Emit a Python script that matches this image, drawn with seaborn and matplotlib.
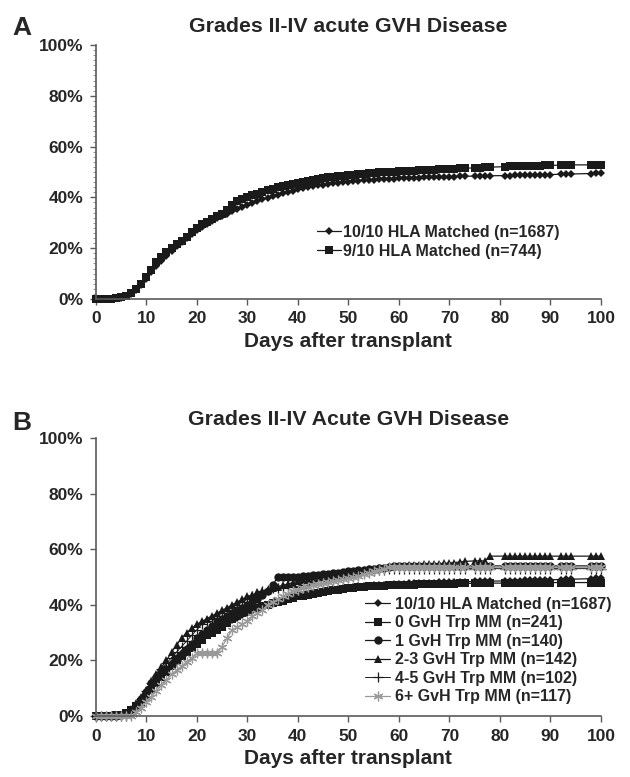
import matplotlib
matplotlib.use("Agg")
import matplotlib.pyplot as plt
import seaborn as sns
from matplotlib.ticker import PercentFormatter, MultipleLocator

sns.set_style("ticks")
plt.rcParams["font.family"] = ["Liberation Sans", "DejaVu Sans"]
plt.rcParams["font.weight"] = "bold"

# days with events (gaps after day 73)
days = list(range(0, 74)) + [75, 76, 77, 78] + list(range(81, 91)) + [92, 93, 94] + [98, 99, 100]

# panel A, cumulative incidence (%)
hla_10_10 = [
    0, 0, 0, 0, 0.2, 0.5, 1.0, 2.0, 3.5, 5.5,
    8.0, 10.5, 13.0, 15.0, 17.0, 19.0, 20.8, 22.5, 24.0, 25.5,
    27.0, 28.3, 29.5, 30.6, 31.7, 32.7, 33.6, 34.5, 35.4, 36.2,
    37.0, 37.8, 38.5, 39.2, 39.9, 40.5, 41.1, 41.7, 42.2, 42.7,
    43.2, 43.6, 44.0, 44.4, 44.7, 45.0, 45.3, 45.6, 45.8, 46.0,
    46.2, 46.4, 46.6, 46.8, 46.9, 47.0, 47.1, 47.2, 47.3, 47.4,
    47.5, 47.6, 47.7, 47.8, 47.8, 47.9, 48.0, 48.0, 48.1, 48.1,
    48.2, 48.2, 48.3, 48.3,
    48.4, 48.4, 48.5, 48.5,
    48.6, 48.6, 48.7, 48.7, 48.8, 48.8, 48.9, 48.9, 49.0, 49.0,
    49.1, 49.2, 49.2,
    49.4, 49.5, 49.5,
]
hla_9_10 = [
    0, 0, 0, 0, 0.3, 0.7, 1.3, 2.5, 4.0, 6.0,
    8.5, 11.5, 14.5, 16.5, 18.5, 20.0, 21.5, 23.0, 24.5, 26.5,
    28.0, 29.5, 30.5, 31.5, 32.5, 33.5, 35.0, 37.0, 38.5, 39.3,
    40.0, 40.8, 41.5, 42.2, 42.8, 43.4, 44.0, 44.5, 45.0, 45.4,
    45.8, 46.2, 46.6, 47.0, 47.3, 47.6, 47.9, 48.2, 48.4, 48.6,
    48.8, 49.0, 49.2, 49.4, 49.5, 49.7, 49.8, 49.9, 50.0, 50.1,
    50.2, 50.3, 50.4, 50.5, 50.6, 50.7, 50.8, 50.9, 51.0, 51.1,
    51.2, 51.3, 51.4, 51.5,
    51.6, 51.7, 51.8, 51.9,
    52.1, 52.2, 52.3, 52.3, 52.4, 52.4, 52.5, 52.5, 52.6, 52.6,
    52.7, 52.7, 52.8,
    52.8, 52.9, 52.9,
]

# panel B, by number of GvH target mismatches
gvh_0 = [
    0, 0, 0, 0, 0.2, 0.5, 1.0, 2.0, 3.5, 5.0,
    7.0, 9.5, 12.0, 14.0, 16.0, 18.0, 20.0, 21.5, 23.0, 24.5,
    26.0, 27.5, 29.0, 30.0, 31.0, 32.0, 33.5, 35.0, 36.0, 37.0,
    38.0, 38.5, 39.0, 39.5, 40.0, 40.5, 41.0, 41.5, 42.0, 42.5,
    43.0, 43.3, 43.6, 44.0, 44.3, 44.6, 44.9, 45.2, 45.5, 45.8,
    46.0, 46.2, 46.4, 46.5, 46.6, 46.7, 46.8, 46.9, 47.0, 47.1,
    47.2, 47.2, 47.3, 47.3, 47.4, 47.4, 47.5, 47.5, 47.5, 47.6,
    47.6, 47.6, 47.7, 47.7,
    47.7, 47.8, 47.8, 47.8,
    47.8, 47.9, 47.9, 47.9, 47.9, 48.0, 48.0, 48.0, 48.0, 48.0,
    48.0, 48.0, 48.0,
    48.0, 48.0, 48.0,
]
gvh_1 = [
    0, 0, 0, 0, 0, 0.5, 1.0, 2.0, 4.0, 6.0,
    8.5, 12.0, 14.0, 16.0, 17.0, 18.5, 20.0, 22.0, 24.0, 26.0,
    28.0, 29.5, 31.0, 32.5, 34.0, 35.0, 36.0, 37.0, 38.0, 39.0,
    40.0, 41.0, 42.0, 43.5, 45.0, 47.0, 50.0, 50.0, 50.0, 50.0,
    50.0, 50.2, 50.4, 50.6, 50.8, 51.0, 51.2, 51.4, 51.6, 51.8,
    52.0, 52.2, 52.4, 52.6, 52.8, 53.0, 53.2, 53.4, 53.6, 53.8,
    54.0, 54.0, 54.0, 54.0, 54.0, 54.0, 54.0, 54.0, 54.0, 54.0,
    54.0, 54.0, 54.0, 54.0,
    54.0, 54.0, 54.0, 54.0,
    54.0, 54.0, 54.0, 54.0, 54.0, 54.0, 54.0, 54.0, 54.0, 54.0,
    54.0, 54.0, 54.0,
    54.0, 54.0, 54.0,
]
gvh_2_3 = [
    0, 0, 0, 0, 0, 0.5, 1.0, 2.5, 4.5, 7.0,
    9.5, 12.5, 15.0, 17.5, 20.0, 23.0, 25.5, 28.0, 30.0, 31.5,
    33.0, 34.0, 35.0, 36.0, 37.0, 38.0, 39.0, 40.0, 41.0, 42.0,
    43.0, 43.5, 44.5, 45.0, 45.5, 46.0, 46.5, 47.0, 47.5, 48.0,
    48.5, 48.8, 49.0, 49.3, 49.6, 50.0, 50.3, 50.6, 51.0, 51.3,
    51.6, 51.9, 52.2, 52.5, 52.8, 53.0, 53.2, 53.4, 53.6, 53.8,
    54.0, 54.1, 54.2, 54.3, 54.4, 54.5, 54.6, 54.7, 54.8, 54.9,
    55.0, 55.2, 55.4, 55.6,
    55.8, 55.8, 55.8, 57.5,
    57.5, 57.5, 57.5, 57.5, 57.5, 57.5, 57.5, 57.5, 57.5, 57.5,
    57.5, 57.5, 57.5,
    57.5, 57.5, 57.5,
]
gvh_4_5 = [
    0, 0, 0, 0, 0, 0, 0, 1.0, 3.0, 6.0,
    9.0, 12.0, 14.0, 17.0, 19.0, 21.0, 23.0, 25.0, 27.0, 29.0,
    31.0, 33.0, 34.0, 35.0, 36.0, 37.0, 38.0, 39.0, 40.0, 41.0,
    42.0, 43.0, 44.0, 45.0, 45.5, 46.0, 46.0, 46.0, 46.5, 46.5,
    46.5, 47.0, 47.0, 47.5, 47.5, 48.0, 48.5, 49.0, 49.5, 50.0,
    50.0, 50.5, 51.0, 51.5, 52.0, 52.0, 52.5, 52.5, 53.0, 53.0,
    53.0, 53.0, 53.0, 53.0, 53.0, 53.0, 53.0, 53.0, 53.0, 53.0,
    53.0, 53.0, 53.0, 53.0,
    53.0, 53.0, 53.0, 53.0,
    53.0, 53.0, 53.0, 53.0, 53.0, 53.0, 53.0, 53.0, 53.0, 53.0,
    53.0, 53.0, 53.0,
    53.0, 53.0, 53.0,
]
gvh_6p = [
    0, 0, 0, 0, 0, 0, 0, 0, 1.5, 3.0,
    5.0, 7.0, 9.0, 11.0, 13.0, 15.0, 16.5, 18.0, 19.5, 21.0,
    22.5, 22.5, 22.5, 22.5, 22.5, 25.0, 28.0, 31.0, 32.0, 33.0,
    34.0, 36.0, 37.0, 38.0, 40.0, 41.0, 42.0, 43.0, 44.0, 45.0,
    45.5, 46.0, 46.5, 47.0, 47.5, 48.0, 48.3, 48.6, 49.0, 49.3,
    49.6, 50.0, 50.5, 51.0, 51.5, 52.0, 52.5, 53.0, 53.5, 53.5,
    53.5, 53.5, 53.5, 53.5, 53.5, 53.5, 53.5, 53.5, 53.5, 53.5,
    53.5, 53.5, 53.5, 53.5,
    53.5, 53.5, 53.5, 53.5,
    53.5, 53.5, 53.5, 53.5, 53.5, 53.5, 53.5, 53.5, 53.5, 53.5,
    53.5, 53.5, 53.5,
    53.5, 53.5, 53.5,
]

labels_a = ["10/10 HLA Matched (n=1687)", "9/10 HLA Matched (n=744)"]
labels_b = ["10/10 HLA Matched (n=1687)", "0 GvH Trp MM (n=241)", "1 GvH Trp MM (n=140)",
            "2-3 GvH Trp MM (n=142)", "4-5 GvH Trp MM (n=102)", "6+ GvH Trp MM (n=117)"]

BLACK = "#1a1a1a"
GRAY = "#999999"
AX_COL = "#5a5a5a"

fig = plt.figure(figsize=(6.3, 7.77), dpi=100)
ax_a = fig.add_axes([0.152, 0.6152, 0.802, 0.3269])
ax_b = fig.add_axes([0.152, 0.0785, 0.802, 0.3578])


def draw(ax, y, label, marker, ms, color=BLACK, mew=0.0, lw=0.9):
    # seaborn puts white marker edges by default, so set them here
    sns.lineplot(x=days, y=y, ax=ax, color=color, marker=marker, markersize=ms,
                 markeredgewidth=mew, markeredgecolor=color, markerfacecolor=color,
                 linewidth=lw, label=label, clip_on=False)


# panel A
draw(ax_a, hla_10_10, labels_a[0], "D", 4.2)
draw(ax_a, hla_9_10, labels_a[1], "s", 5.8)

# panel B
draw(ax_b, hla_10_10, labels_b[0], "D", 4.2)
draw(ax_b, gvh_0, labels_b[1], "s", 5.8)
draw(ax_b, gvh_1, labels_b[2], "o", 6.0)
draw(ax_b, gvh_2_3, labels_b[3], "^", 6.2)
draw(ax_b, gvh_4_5, labels_b[4], "+", 7, mew=0.9, lw=0.7)
draw(ax_b, gvh_6p, labels_b[5], (6, 2, 0), 7, color=GRAY, mew=0.9)

titles = ["Grades II-IV acute GVH Disease", "Grades II-IV Acute GVH Disease"]
for ax, title in zip([ax_a, ax_b], titles):
    ax.set_xlim(0, 100)
    ax.set_ylim(0, 100)
    ax.xaxis.set_major_locator(MultipleLocator(10))
    ax.yaxis.set_major_locator(MultipleLocator(20))
    ax.yaxis.set_major_formatter(PercentFormatter(xmax=100, decimals=0))
    sns.despine(ax=ax)
    for side in ["left", "bottom"]:
        ax.spines[side].set_color(AX_COL)
        ax.spines[side].set_linewidth(1.2)
    ax.tick_params(axis="both", which="major", direction="out", length=4, width=1,
                   color=AX_COL, labelsize=12.5, pad=5)
    ax.set_xlabel("Days after transplant", fontsize=15, fontweight="bold", labelpad=4)
    ax.set_ylabel("")
    ax.set_title(title, fontsize=15.3, fontweight="bold", pad=9)

ax_a.yaxis.set_minor_locator(MultipleLocator(2))
ax_a.tick_params(axis="y", which="minor", direction="out", length=2, width=0.8, color="#999999")

ax_a.legend(loc="center left", bbox_to_anchor=(0.503, 0.6885), bbox_transform=fig.transFigure,
            frameon=False, fontsize=11.5, handlelength=1.5, handletextpad=0.15,
            labelspacing=0.25, borderpad=0, borderaxespad=0)
ax_b.legend(loc="center left", bbox_to_anchor=(0.579, 0.1628), bbox_transform=fig.transFigure,
            frameon=False, fontsize=11.5, handlelength=1.6, handletextpad=0.3,
            labelspacing=0.22, borderpad=0, borderaxespad=0)

fig.text(0.019, 0.9646, "A", fontsize=19, fontweight="bold", va="center", ha="left")
fig.text(0.019, 0.4556, "B", fontsize=19, fontweight="bold", va="center", ha="left")

fig.savefig("out.png", dpi=100)
